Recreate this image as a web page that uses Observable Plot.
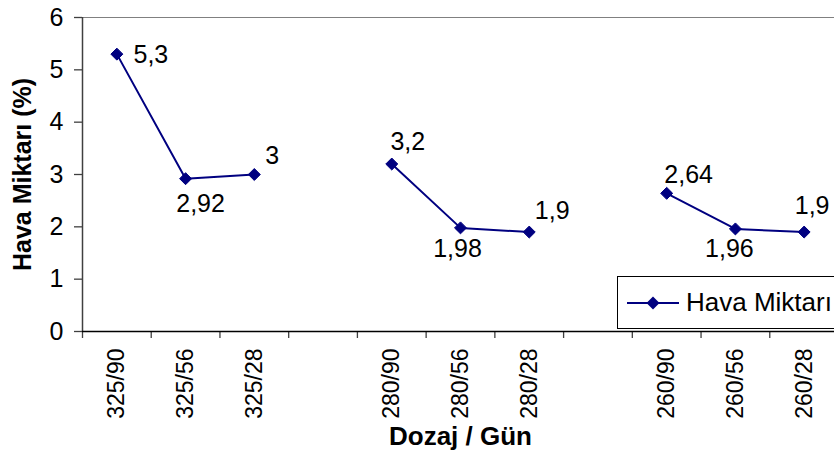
<!DOCTYPE html>
<html>
<head>
<meta charset="utf-8">
<script src="https://cdn.jsdelivr.net/npm/d3@7"></script>
<script src="https://cdn.jsdelivr.net/npm/@observablehq/plot@0.6"></script>
<style>
  html, body { margin: 0; padding: 0; background: #fff; }
  #wrap { position: relative; width: 834px; height: 455px; overflow: hidden; font-family: "Liberation Sans", Arial, sans-serif; }
  #legend { position: absolute; left: 617px; top: 276px; width: 240px; height: 51px; border: 1px solid #000; background: #fff; box-sizing: content-box; }
  #legend svg { position: absolute; left: 0; top: 0; }
  #legend span { position: absolute; left: 68px; top: 0; line-height: 51px; font-size: 26px; color: #000; white-space: nowrap; }
</style>
</head>
<body>
<div id="wrap"></div>
<script>
// ---- data ----
const categories = ["325/90", "325/56", "325/28", "", "280/90", "280/56", "280/28", "", "260/90", "260/56", "260/28"];
const groups     = ["325", "325", "325", null, "280", "280", "280", null, "260", "260", "260"];
const values     = [5.3, 2.92, 3, null, 3.2, 1.98, 1.9, null, 2.64, 1.96, 1.9];
const valueLabels = ["5,3", "2,92", "3", "", "3,2", "1,98", "1,9", "", "2,64", "1,96", "1,9"];
const yTicks = [0, 1, 2, 3, 4, 5, 6];
const seriesName = "Hava Miktarı";
const yTitle = "Hava Miktarı (%)";
const xTitle = "Dozaj / Gün";

// ---- layout (label offsets in pixels) ----
const labelOffsets = [[34, 1], [15, 25], [18, -19], null, [16, -22], [-3, 21], [23, -21], null, [22, -18], [-6, 20], [8, -26]];

const rows = categories.map((c, i) => ({i, cat: c, group: groups[i], value: values[i], label: valueLabels[i]}))
  .filter(d => d.value != null);

const navy = "#000080";
const font = "Liberation Sans, Arial, sans-serif";

const labelMarks = rows.map(d => Plot.text([d], {
  x: r => r.i + 0.5, y: "value", text: "label",
  dx: labelOffsets[d.i][0], dy: labelOffsets[d.i][1],
  fontSize: 25, fill: "#000", textAnchor: "middle", lineAnchor: "middle"
}));

const chart = Plot.plot({
  width: 834,
  height: 455,
  marginLeft: 82,
  marginRight: 0,
  marginTop: 17,
  marginBottom: 124,
  style: {fontFamily: font, background: "#fff", color: "#000", overflow: "visible"},
  x: {type: "linear", domain: [0, categories.length], range: [82, 838]},
  y: {domain: [0, 6], range: [331, 17]},
  marks: [
    Plot.ruleY([6], {stroke: "#808080", strokeWidth: 1}),
    Plot.axisY({ticks: yTicks, tickFormat: d => String(d), tickSize: 8, tickPadding: 11, fontSize: 25, label: null, stroke: "#404040", strokeWidth: 1.3}),
    Plot.axisX({ticks: d3.range(categories.length + 1), tickFormat: () => "", tickSize: 7, label: null, stroke: "#404040", strokeWidth: 1.3}),
    Plot.axisX({ticks: d3.range(categories.length).map(i => i + 0.5), tickFormat: v => categories[Math.floor(v)], tickSize: 0, tickPadding: 17, tickRotate: -90, fontSize: 23, label: null}),
    Plot.ruleX([0], {stroke: "#404040", strokeWidth: 1.5}),
    Plot.ruleY([0], {stroke: "#000", strokeWidth: 1.5}),
    Plot.line(rows, {x: d => d.i + 0.5, y: "value", z: "group", stroke: navy, strokeWidth: 2}),
    Plot.dot(rows, {x: d => d.i + 0.5, y: "value", symbol: "diamond2", r: 5.4, fill: navy, stroke: navy, strokeWidth: 1}),
    ...labelMarks,
    Plot.text([yTitle], {frameAnchor: "left", rotate: -90, dx: -60, fontSize: 25, fontWeight: "bold", textAnchor: "middle", lineAnchor: "middle"}),
    Plot.text([xTitle], {frameAnchor: "bottom", dy: 105, dx: 2, fontSize: 26, fontWeight: "bold", textAnchor: "middle", lineAnchor: "middle"})
  ]
});

const wrap = document.getElementById("wrap");
wrap.appendChild(chart);

// legend
const legend = document.createElement("div");
legend.id = "legend";
legend.innerHTML = `<svg width="64" height="51"><line x1="9" x2="61" y1="26" y2="26" stroke="${navy}" stroke-width="2"/><path d="M35,19.5 L41.5,26 L35,32.5 L28.5,26 Z" fill="${navy}"/></svg><span>${seriesName}</span>`;
wrap.appendChild(legend);
</script>
</body>
</html>
